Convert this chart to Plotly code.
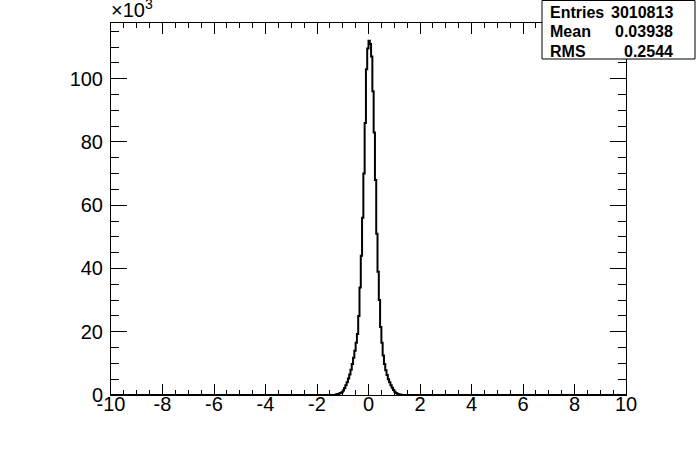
import numpy as np
import plotly.graph_objects as go

# ---- data (counts in thousands per bin, bin width 0.05) ----
bin_width = 0.05
x_min, x_max = -10.0, 10.0
core_first_center = -1.275
core_counts_k = [
    0.1, 0.2, 0.3, 0.45, 0.65, 0.9, 1.4, 2.2, 3.1, 4.0, 5.2, 6.5, 8.0, 9.8,
    11.8, 14.0, 16.5, 19.3,
    25.0, 34.0, 44.0, 56.0, 70.0, 86.0, 103.0, 109.5, 112.0, 111.0, 107.0,
    96.0, 83.0, 68.0, 51.0, 39.0, 30.0,
    21.5, 16.5, 12.5, 9.8, 7.8, 6.3, 5.0, 4.0, 3.1, 2.3, 1.6, 1.0, 0.6,
    0.4, 0.25, 0.15, 0.1,
]
y_tick_vals = [0, 20, 40, 60, 80, 100]
y_tick_text = ["0", "20", "40", "60", "80", "100"]
x_tick_vals = [-10, -8, -6, -4, -2, 0, 2, 4, 6, 8, 10]
x_tick_text = ["-10", "-8", "-6", "-4", "-2", "0", "2", "4", "6", "8", "10"]
stats_labels = ["Entries", "Mean", "RMS"]
stats_values = ["3010813", "0.03938", "0.2544"]

# ---- build histogram arrays ----
n_bins = int(round((x_max - x_min) / bin_width))
edges = x_min + bin_width * np.arange(n_bins + 1)
counts = np.zeros(n_bins)
start = int(round((core_first_center - bin_width / 2 - x_min) / bin_width))
counts[start:start + len(core_counts_k)] = core_counts_k
xs = np.append(edges[:-1], edges[-1])
ys = np.append(counts, counts[-1])

W, H = 696, 472
L, R, T, B = 111, 626, 23, 395
y_top = max(core_counts_k) * 1.05

def px(xp):
    return (xp - L) / (R - L)

def py(yp):
    return (B - yp) / (B - T)

fig = go.Figure()
fig.add_trace(go.Scatter(x=xs, y=ys, mode="lines", line=dict(color="black", width=2, shape="hv"),
                         hoverinfo="skip", showlegend=False))

font_ticks = dict(family="Liberation Sans, Arial, sans-serif", size=20, color="black")
fig.update_layout(
    width=W, height=H,
    margin=dict(l=L, r=W - R, t=T, b=H - B, pad=0),
    paper_bgcolor="white", plot_bgcolor="white",
    showlegend=False,
    xaxis=dict(range=[x_min, x_max], tickvals=x_tick_vals, ticktext=x_tick_text,
               ticks="inside", ticklen=11, tickwidth=1, tickcolor="black",
               minor=dict(ticks="inside", ticklen=5, dtick=0.5, tickcolor="black", showgrid=False),
               showline=True, linecolor="black", linewidth=1, mirror="ticks",
               showgrid=False, zeroline=False, tickfont=font_ticks, ticklabelstandoff=-9),
    yaxis=dict(range=[0, y_top], tickvals=y_tick_vals, ticktext=y_tick_text,
               ticks="inside", ticklen=16, tickwidth=1, tickcolor="black",
               minor=dict(ticks="inside", ticklen=8, dtick=5, tickcolor="black", showgrid=False),
               showline=True, linecolor="black", linewidth=1, mirror="ticks",
               showgrid=False, zeroline=False, tickfont=font_ticks, ticklabelstandoff=3),
)

# exponent label
fig.add_annotation(x=px(109), y=py(23), xref="paper", yref="paper", xanchor="left", yanchor="bottom",
                   text="×10<sup>3</sup>", showarrow=False,
                   font=dict(family="Liberation Sans, Arial, sans-serif", size=20, color="black"))

# stats box
fig.add_shape(type="rect", xref="paper", yref="paper", x0=px(542), x1=px(695), y0=py(59), y1=py(0.5),
              line=dict(color="black", width=1), fillcolor="white", layer="above")
row_y = [12.5, 32, 51]
sfont = dict(family="Liberation Sans, Arial, sans-serif", size=16, color="black")
for lab, val, yy in zip(stats_labels, stats_values, row_y):
    fig.add_annotation(x=px(548), y=py(yy), xref="paper", yref="paper", xanchor="left", yanchor="middle",
                       text="<b>%s</b>" % lab, showarrow=False, font=sfont)
    fig.add_annotation(x=px(675), y=py(yy), xref="paper", yref="paper", xanchor="right", yanchor="middle",
                       text="<b>%s</b>" % val, showarrow=False, font=sfont)

fig.write_html("out.html", config={"displayModeBar": False},
               post_script="document.body.style.margin='0px';")
